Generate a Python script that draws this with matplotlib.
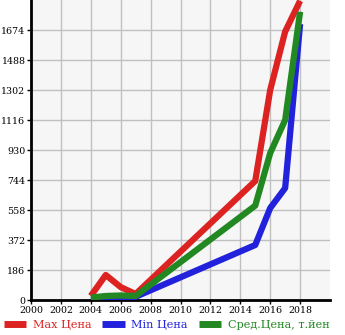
import matplotlib.pyplot as plt

years = [2004, 2005, 2006, 2007, 2015, 2016, 2017, 2018]
max_price = [25, 155, 80, 37, 738, 1302, 1664, 1855]
min_price = [8, 2, 8, 20, 341, 570, 694, 1711]
avg_price = [15, 25, 28, 25, 585, 911, 1116, 1787]

y_ticks = [0, 186, 372, 558, 744, 930, 1116, 1302, 1488, 1674]
x_ticks = list(range(2000, 2020, 2))

plt.rcParams['font.family'] = 'DejaVu Serif'

fig = plt.figure(figsize=(3.45, 3.35), dpi=100)
ax = fig.add_axes([31 / 345, 35 / 335, 299 / 345, 300 / 335])
ax.set_facecolor('#f6f6f6')

ax.plot(years, max_price, color='#dd2222', lw=4.5, solid_capstyle='butt', label='Max Цена', zorder=3)
ax.plot(years, min_price, color='#2222dd', lw=4.5, solid_capstyle='butt', label='Min Цена', zorder=3)
ax.plot(years, avg_price, color='#228822', lw=4.5, solid_capstyle='butt', label='Сред.Цена, т.йен', zorder=4)

ax.set_xlim(2000, 2020)
ax.set_ylim(0, 1860)
ax.set_xticks(x_ticks)
ax.set_yticks(y_ticks)
ax.tick_params(axis='both', labelsize=6.8, length=3, width=1, pad=1)
ax.grid(True, color='#c0c0c0', lw=1)
ax.set_axisbelow(True)

for side in ['top', 'right']:
    ax.spines[side].set_visible(False)
for side in ['left', 'bottom']:
    ax.spines[side].set_linewidth(2)

leg = fig.legend(loc='lower left', bbox_to_anchor=(-0.005, -0.002), ncol=3, frameon=False,
                 fontsize=8.1, handlelength=2.0, handletextpad=0.55, columnspacing=1.0,
                 borderaxespad=0.1)
for t, c in zip(leg.get_texts(), ['#dd2222', '#2222dd', '#228822']):
    t.set_color(c)
for line in leg.get_lines():
    line.set_linewidth(5)

fig.savefig('out.png', dpi=100)
